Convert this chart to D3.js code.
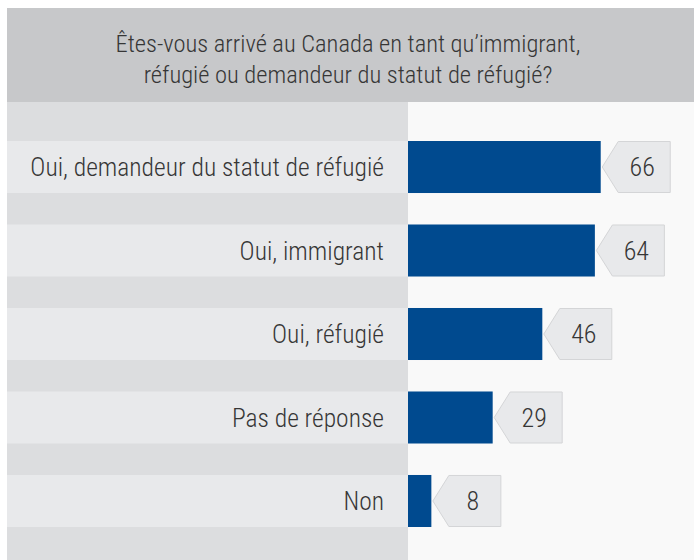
<!DOCTYPE html>
<html>
<head>
<meta charset="utf-8">
<script src="https://cdn.jsdelivr.net/npm/d3@7"></script>
<style>
  html, body { margin: 0; padding: 0; background: #ffffff; }
  svg { display: block; }
  text { font-family: "Roboto Condensed", "Liberation Sans Narrow", "Open Sans", sans-serif; font-weight: 300; fill: #363636; }
</style>
</head>
<body>
<div id="chart"></div>
<script>
// Survey answers and their shares (%)
const categories = [
  "Oui, demandeur du statut de réfugié",
  "Oui, immigrant",
  "Oui, réfugié",
  "Pas de réponse",
  "Non"
];
const values = [66, 64, 46, 29, 8];
const titleLines = [
  "Êtes-vous arrivé au Canada en tant qu’immigrant,",
  "réfugié ou demandeur du statut de réfugié?"
];

const W = 694, H = 560;
const padLeft = 7, padTop = 8, titleBottom = 102, colRight = 408;

const svg = d3.select("#chart").append("svg")
  .attr("width", W).attr("height", H);

// Plot background
svg.append("rect").attr("x", padLeft).attr("y", padTop)
  .attr("width", W - padLeft).attr("height", H - padTop).attr("fill", "#f9f9f9");

// Title band
svg.append("rect").attr("x", padLeft).attr("y", padTop)
  .attr("width", W - padLeft).attr("height", titleBottom - padTop).attr("fill", "#c7c8ca");

svg.append("g").selectAll("text").data(titleLines).join("text")
  .attr("x", 348).attr("y", (d, i) => 52 + i * 31)
  .attr("text-anchor", "middle")
  .attr("font-size", 24.5)
  .text(d => d);

// Category column
svg.append("rect").attr("x", padLeft).attr("y", titleBottom)
  .attr("width", colRight - padLeft).attr("height", H - titleBottom).attr("fill", "#dcdddf");

const y = d3.scaleBand().domain(categories).range([141, 527])
  .paddingInner(0.377).paddingOuter(0);
const x = d3.scaleLinear().domain([0, 100]).range([colRight, colRight + 292]);

const rows = svg.append("g").selectAll("g").data(categories).join("g");

rows.append("rect")
  .attr("x", padLeft).attr("y", d => y(d))
  .attr("width", colRight - padLeft).attr("height", y.bandwidth())
  .attr("fill", "#e8e9eb");

rows.append("text")
  .attr("x", 384).attr("y", d => y(d) + y.bandwidth() / 2)
  .attr("dy", "0.36em")
  .attr("text-anchor", "end")
  .attr("font-size", 25.5)
  .text(d => d);

// Bars
const bars = svg.append("g").selectAll("g").data(categories.map((c, i) => ({c, v: values[i]}))).join("g");

bars.append("rect")
  .attr("x", x(0)).attr("y", d => y(d.c))
  .attr("width", d => x(d.v) - x(0)).attr("height", y.bandwidth())
  .attr("fill", "#004a8f");

// Value tags: pentagon pointing at the bar end
const notch = 16, boxW = 52;
bars.append("path")
  .attr("d", d => {
    const x0 = x(d.v) + 1.5, y0 = y(d.c) + 0.5, h = y.bandwidth() - 1;
    return `M${x0},${y0 + h / 2} L${x0 + notch},${y0} L${x0 + notch + boxW},${y0} ` +
           `L${x0 + notch + boxW},${y0 + h} L${x0 + notch},${y0 + h} Z`;
  })
  .attr("fill", "#e8e9eb").attr("stroke", "#d4d5d7").attr("stroke-width", 1);

bars.append("text")
  .attr("x", d => x(d.v) + 1.5 + notch + boxW / 2 - 2)
  .attr("y", d => y(d.c) + y.bandwidth() / 2)
  .attr("dy", "0.36em")
  .attr("text-anchor", "middle")
  .attr("font-size", 26)
  .text(d => d.v);
</script>
</body>
</html>
